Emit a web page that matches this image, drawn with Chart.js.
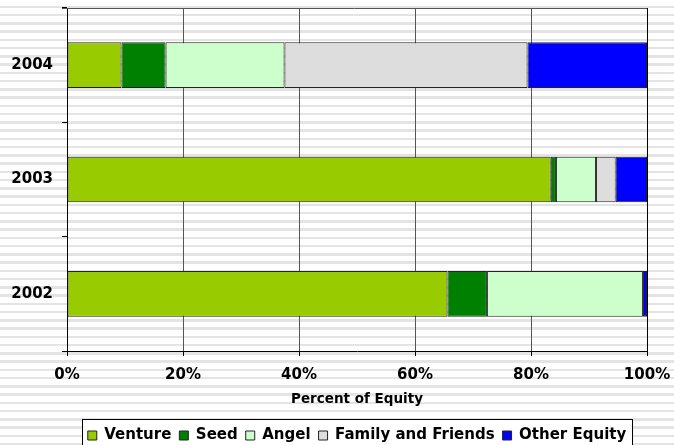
<!DOCTYPE html>
<html>
<head>
<meta charset="utf-8">
<script src="https://cdn.jsdelivr.net/npm/chart.js@4.4.1/dist/chart.umd.min.js"></script>
<style>
    html, body {
        margin: 0;
        padding: 0;
        overflow: hidden;
        background: repeating-linear-gradient(180deg, #ffffff 0px, #ffffff 5.75px, #e4e4e4 5.75px, #e4e4e4 8.25px);
    }
    #chart-box {
        position: relative;
        width: 674px;
        height: 453px;
    }
</style>
</head>
<body>
<div id="chart-box"><canvas id="equity-chart"></canvas></div>
<script>
let years = ["2004", "2003", "2002"];
let venture = [9.4, 83.4, 65.6];
let seed = [7.6, 0.9, 6.8];
let angel = [20.5, 6.9, 26.9];
let family = [41.9, 3.4, 0];
let other = [20.6, 5.4, 0.7];
let percentTicks = [0, 20, 40, 60, 80, 100];

// white box with a black frame behind the legend
const legendFrame = {
    id: "legendFrame",
    beforeDraw: function (chart) {
        let legend = chart.legend;
        let boxes = legend.legendHitBoxes;
        if (!boxes || boxes.length === 0) {
            return;
        }
        let first = boxes[0];
        let last = boxes[boxes.length - 1];
        let left = Math.round(first.left - 6) + 0.5;
        let right = Math.round(last.left + last.width + 6) + 0.5;
        let top = Math.round(legend.top) - 0.5;
        let ctx = chart.ctx;
        ctx.save();
        ctx.fillStyle = "#ffffff";
        ctx.fillRect(left, top, right - left, 40);
        ctx.strokeStyle = "#000000";
        ctx.lineWidth = 1;
        ctx.strokeRect(left, top, right - left, 40);
        ctx.restore();
    },
};

// gray line along the top of the plot area
const topLine = {
    id: "topLine",
    beforeDatasetsDraw: function (chart) {
        let area = chart.chartArea;
        let ctx = chart.ctx;
        let y = Math.round(area.top) + 0.5;
        ctx.save();
        ctx.strokeStyle = "#555555";
        ctx.lineWidth = 1;
        ctx.beginPath();
        ctx.moveTo(area.left - 5, y);
        ctx.lineTo(area.right, y);
        ctx.stroke();
        ctx.restore();
    },
};

function makeSet(label, data, color) {
    return {
        label: label,
        data: data,
        backgroundColor: color,
        borderColor: "#222222",
        borderWidth: 1,
        borderSkipped: false,
        barPercentage: 0.4,
        categoryPercentage: 1.0,
    };
}

let canvas = document.getElementById("equity-chart");
window.chartEquity = new Chart(canvas, {
    type: "bar",
    data: {
        labels: years,
        datasets: [
            makeSet("Venture", venture, "#99cc00"),
            makeSet("Seed", seed, "#008000"),
            makeSet("Angel", angel, "#ccffcc"),
            makeSet("Family and Friends", family, "#dddddd"),
            makeSet("Other Equity", other, "#0000ff"),
        ],
    },
    plugins: [legendFrame, topLine],
    options: {
        indexAxis: "y",
        responsive: true,
        maintainAspectRatio: false,
        animation: false,
        layout: {
            padding: { top: 8, right: 27, left: 0, bottom: 0 },
        },
        scales: {
            x: {
                stacked: true,
                min: 0,
                max: 100,
                afterBuildTicks: function (scale) {
                    scale.ticks = percentTicks.map(function (v) {
                        return { value: v };
                    });
                },
                afterFit: function (scale) {
                    scale.height = 69;
                    scale.paddingLeft = 0;
                    scale.paddingRight = 0;
                },
                ticks: {
                    padding: 10,
                    color: "#000000",
                    font: { family: "DejaVu Sans", size: 15, weight: "bold" },
                    callback: function (value) {
                        return value + "%";
                    },
                },
                grid: {
                    color: function (context) {
                        return context.index === percentTicks.length - 1 ? "#000000" : "#555555";
                    },
                    tickColor: "#000000",
                    tickLength: 5,
                },
                border: { color: "#000000", width: 1 },
                title: {
                    display: true,
                    text: "Percent of Equity",
                    color: "#000000",
                    font: { family: "DejaVu Sans", size: 13.5, weight: "bold" },
                    padding: { top: 7, bottom: 12 },
                },
            },
            y: {
                stacked: true,
                afterFit: function (scale) {
                    scale.width = 67;
                    scale.paddingTop = 0;
                    scale.paddingBottom = 0;
                },
                ticks: {
                    padding: 9,
                    color: "#000000",
                    font: { family: "DejaVu Sans", size: 15, weight: "bold" },
                },
                grid: {
                    offset: true,
                    color: "rgba(0,0,0,0)",
                    tickColor: "#000000",
                    tickLength: 5,
                },
                border: { color: "#000000", width: 1 },
            },
        },
        plugins: {
            tooltip: { enabled: false },
            legend: {
                position: "bottom",
                fullSize: false,
                labels: {
                    boxWidth: 9,
                    boxHeight: 9,
                    padding: 8,
                    color: "#000000",
                    font: { family: "DejaVu Sans", size: 15, weight: "bold" },
                },
            },
        },
    },
});
</script>
</body>
</html>
